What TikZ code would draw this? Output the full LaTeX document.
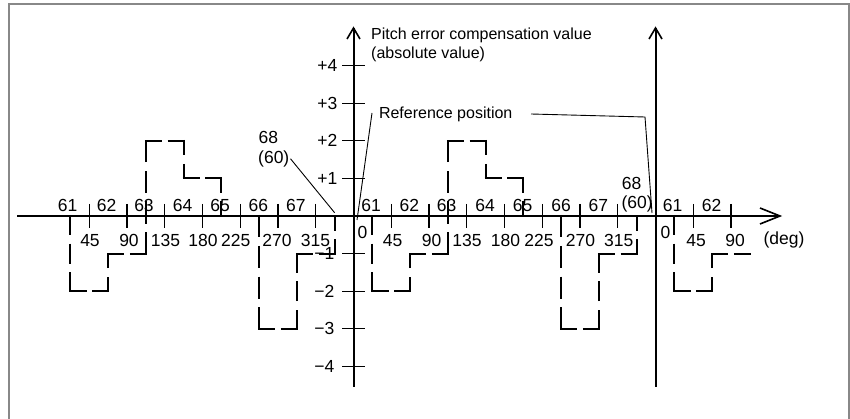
\documentclass[tikz,border=0pt]{standalone}
\usepackage{fontspec}
\setmainfont{Liberation Sans}
\definecolor{framegray}{RGB}{136,136,136}
\newcommand\profseg[4]{%
  \pgfmathsetmacro\segL{abs(#3-#1)+abs(#4-#2)+2}%
  \pgfmathsetmacro\segG{abs(#3-#1)<0.01 ? 8.5 : 5.5}%
  \pgfmathsetmacro\segP{abs(#3-#1)<0.01 ? 29 : 21.5}%
  \pgfmathsetmacro\segN{max(1,round((\segL+\segG)/\segP))}%
  \pgfmathsetmacro\segD{(\segL-(\segN-1)*\segG)/\segN}%
  \draw[profile, dash pattern=on \segD pt off \segG pt] (#1,#2) -- (#3,#4);%
}
\begin{document}
\begin{tikzpicture}[x=1pt,y=-1pt,
  lbl/.style={font=\fontsize{16}{17}\selectfont, inner sep=0pt, anchor=base},
  num/.style={font=\fontsize{17.5}{18}\selectfont, inner sep=0pt, anchor=base},
  axisline/.style={line width=2pt, draw=black},
  headline/.style={line width=1.6pt, draw=black, line join=miter},
  tickline/.style={line width=1.2pt, draw=black},
  profile/.style={line width=2pt, draw=black, shorten <=-1pt, shorten >=-1pt},
  leader/.style={line width=0.9pt, draw=black},
  frameline/.style={line width=2pt, draw=framegray}]
\useasboundingbox (0,0) rectangle (850,419);
% frame
\draw[frameline] (9,425) -- (9,4.5) -- (848.5,4.5) -- (848.5,425);
% axes
\coordinate (hstart) at (17,216);
\coordinate (htip) at (780,216);
\draw[axisline] (hstart) -- (htip);
\draw[headline] (760,208) -- (htip) -- (760,224);
\coordinate (v1bot) at (353.5,386.7);
\coordinate (v1tip) at (353.5,28);
\draw[axisline] (v1bot) -- (v1tip);
\draw[headline] (347,39) -- (v1tip) -- (360,39);
\coordinate (v2bot) at (655.5,386.7);
\coordinate (v2tip) at (655.5,28);
\draw[axisline] (v2bot) -- (v2tip);
\draw[headline] (649,39) -- (v2tip) -- (662,39);
% value ticks and labels
\foreach \v in {1,2,3,4} {
  \draw[tickline] (342,{216-37.6*\v}) -- (365,{216-37.6*\v});
  \draw[tickline] (342,{216+37.6*\v}) -- (365,{216+37.6*\v});
  \node[num, anchor=base east] (yp\v) at (337.5,{216-37.6*\v+6}) {+\v};
  \node[num, anchor=base east] (ym\v) at (334.5,{216+37.6*\v+6}) {−\v};
}
% degree ticks
\foreach \x in {89.25,127,164.75,202.5,240.25,278,315.75,
                391.25,429,466.75,504.5,542.25,580,617.75,693.25,731} {
  \draw[tickline] (\x,204) -- (\x,228);
}
% point numbers above axis
\foreach \n/\x [count=\i] in {61/67.7,62/106.7,63/144,64/182.5,65/220,66/258.3,67/295.8,
                  61/371,62/409.3,63/446.7,64/485,65/522.7,66/561,67/598.3,
                  61/672.5,62/711.7} {
  \node[num] (pn\i) at (\x,211.7) {\n};
}
% degree labels below axis
\foreach \d/\x [count=\i] in {45/90,90/129,135/165.5,180/203,225/235.7,270/277,315/315.5,
                  45/392.7,90/431.7,135/467,180/505.5,225/539,270/580.5,315/618.7,
                  45/696,90/735} {
  \node[num] (dg\i) at (\x,246.7) {\d};
}
\node[num] (zeroA) at (362.5,238.3) {0};
\node[num] (zeroB) at (665.5,238.3) {0};
\node[num] (degunit) at (784,245) {(deg)};
% 68 (60) labels
\node[num, anchor=base west] (l68a) at (258.4,143.3) {68};
\node[num, anchor=base west] (l60a) at (258,163.3) {(60)};
\node[num, anchor=base west] (l68b) at (621.7,189.3) {68};
\node[num, anchor=base west] (l60b) at (621.3,208.3) {(60)};
\coordinate (l60aend) at (334.6,212.7);
\draw[leader] ([xshift=1pt]l60a.east) -- (l60aend);
% title
\node[lbl, anchor=base west] (title1) at (371,40) {Pitch error compensation value};
\node[lbl, anchor=base west] (title2) at (371,58.3) {(absolute value)};
% reference position
\node[lbl, anchor=base west] (refpos) at (378.8,119) {Reference position};
\coordinate (refLa) at (372,113);
\coordinate (refLb) at (357,220);
\draw[leader] (refLa) -- (refLb);
\coordinate (refRa) at (531,114);
\coordinate (refRb) at (645,117);
\coordinate (refRc) at (652,213);
\draw[leader] (refRa) -- (refRb) -- (refRc);
% compensation profile
\foreach \o in {0,302} {
  \pgfmathsetmacro\sa{70.4+\o}\pgfmathsetmacro\sb{108.1+\o}
  \pgfmathsetmacro\sc{145.9+\o}\pgfmathsetmacro\sd{183.6+\o}
  \pgfmathsetmacro\se{221.4+\o}\pgfmathsetmacro\sf{259.1+\o}
  \pgfmathsetmacro\sg{296.9+\o}\pgfmathsetmacro\sh{334.6+\o}
  \profseg{\sa}{216}{\sa}{291.2}
  \profseg{\sa}{291.2}{\sb}{291.2}
  \profseg{\sb}{291.2}{\sb}{253.6}
  \profseg{\sb}{253.6}{\sc}{253.6}
  \profseg{\sc}{253.6}{\sc}{140.8}
  \profseg{\sc}{140.8}{\sd}{140.8}
  \profseg{\sd}{140.8}{\sd}{178.4}
  \profseg{\sd}{178.4}{\se}{178.4}
  \profseg{\se}{178.4}{\se}{216}
  \profseg{\sf}{216}{\sf}{328.8}
  \profseg{\sf}{328.8}{\sg}{328.8}
  \profseg{\sg}{328.8}{\sg}{253.6}
  \profseg{\sg}{253.6}{\sh}{253.6}
  \profseg{\sh}{253.6}{\sh}{216}
}
\profseg{674.4}{216}{674.4}{291.2}
\profseg{674.4}{291.2}{712.1}{291.2}
\profseg{712.1}{291.2}{712.1}{253.6}
\profseg{712.1}{253.6}{749.9}{253.6}
\end{tikzpicture}
\end{document}
